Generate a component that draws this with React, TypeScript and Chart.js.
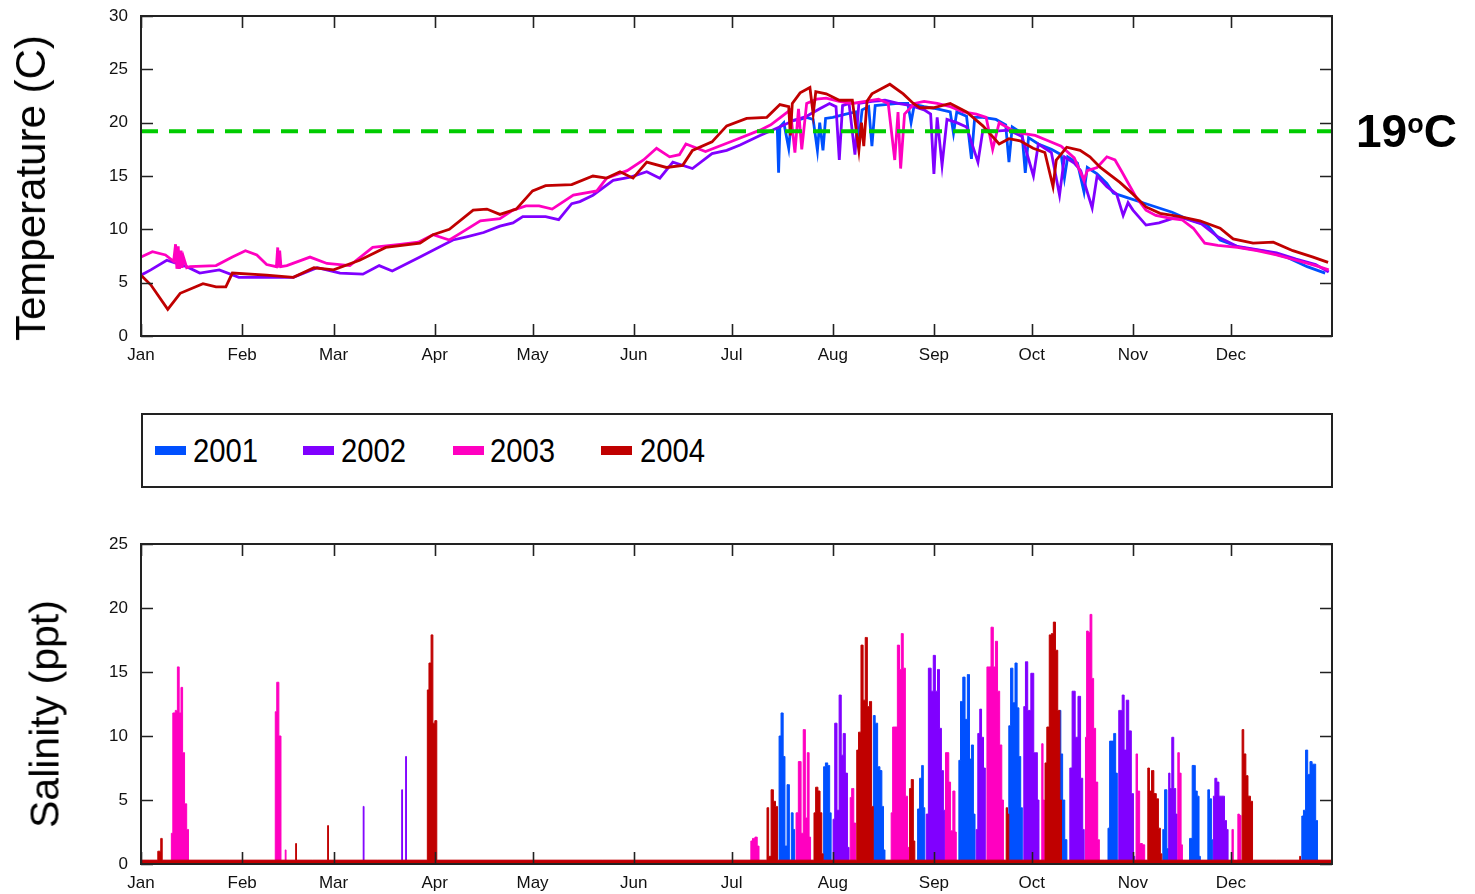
import React, { useEffect, useRef } from 'react';
import { Chart, registerables } from 'chart.js';

Chart.register(...registerables);

// ---------- categories / ticks ----------
const MONTH_DAYS = [0, 31, 59, 90, 120, 151, 181, 212, 243, 273, 304, 334];
const MONTH_LABELS = ['Jan', 'Feb', 'Mar', 'Apr', 'May', 'Jun', 'Jul', 'Aug', 'Sep', 'Oct', 'Nov', 'Dec'];
const YEARS = ['2001', '2002', '2003', '2004'];
const COLORS = ['#0050FF', '#8000FF', '#FF00C0', '#C00000'];
const THRESHOLD_LABEL = '19';
const THRESHOLD = 19.2;
const TEMP_MAX = 30;
const TEMP_STEP = 5;
const SAL_MAX = 25;
const SAL_STEP = 5;

// ---------- temperature (day of year, deg C) ----------
const temp2001: [number, number][] = [
  [195.0, 19.5], [195.4, 15.3], [195.8, 19.6], [197, 20.0], [198.5, 17.6], [199.3, 20.2], [202, 20.3], [204, 20.5],
  [206, 20.3], [207.3, 17.4], [208, 20.0], [209, 17.4], [209.8, 20.4], [212, 20.5], [216, 20.8], [219, 21.0],
  [220, 18.5], [221, 21.2], [223, 21.5], [224, 17.8], [225, 21.6], [228, 21.7], [232, 21.8], [235, 21.8],
  [236, 20.0], [237, 21.7], [240, 21.5], [244, 21.3], [248, 21.0], [249, 19.0], [250, 21.0], [253, 20.6],
  [254.5, 16.6], [255.5, 20.5], [258, 20.5], [262, 20.3], [265, 19.8], [266, 16.3], [267, 19.6], [270, 19.0],
  [271, 15.3], [272, 18.6], [275, 18.0], [279, 17.5], [282, 17.0], [283, 14.8], [284, 16.8], [287, 16.2],
  [289, 13.5], [290, 15.8], [293, 15.2], [296, 14.3], [298, 13.4], [302, 13.0], [308, 12.4], [316, 11.6],
  [320.5, 11.0], [326.7, 10.4], [330.7, 9.0], [336.8, 8.3], [345, 7.9], [351, 7.4], [357.4, 6.5], [362.9, 5.9],
];

const temp2002: [number, number][] = [
  [0, 5.7], [3, 6.2], [7.9, 7.1], [14, 6.5], [18, 5.9], [24, 6.2], [30, 5.5], [38.5, 5.5], [46.7, 5.5],
  [54, 6.4], [61, 5.9], [68, 5.8], [73, 6.6], [77, 6.1], [85.5, 7.4], [95.6, 9.0], [99.8, 9.3], [105, 9.7],
  [110, 10.3], [114, 10.6], [117, 11.2], [124, 11.2], [128, 10.9], [132, 12.4], [134.5, 12.6], [138.5, 13.2],
  [144.7, 14.6], [150, 14.9], [155, 15.4], [159, 14.8], [163, 16.3], [169, 15.7], [175, 17.1], [179.5, 17.4],
  [183.6, 17.9], [189.7, 18.8], [195, 19.5], [200, 20.2], [204, 20.6], [208, 21.3], [211, 21.8], [213, 21.5],
  [214, 16.5], [215, 21.6], [217, 21.8], [218.8, 17.0], [220, 21.8], [224, 22.0], [228, 22.1], [232, 21.8],
  [236, 21.6], [240, 21.2], [242, 20.8], [243, 15.2], [244, 20.5], [245.5, 16.0], [247, 20.3], [250, 20.0],
  [253, 19.6], [256.5, 16.3], [258, 19.3], [262, 19.2], [266, 19.3], [270, 18.7], [273.5, 15.0], [275, 18.0],
  [279, 17.2], [281.5, 13.2], [283, 16.8], [286, 16.2], [288, 15.5], [291.5, 12.0], [293, 15.0], [296, 14.0],
  [299, 13.3], [301, 11.3], [302.5, 12.5], [304, 11.8], [308, 10.4], [312, 10.6], [316, 11.0], [320, 11.0],
  [325, 10.5], [330, 9.3], [336, 8.4], [342, 8.1], [348, 7.8], [354, 7.2], [360, 6.7], [364, 6.0],
];

const temp2003: [number, number][] = [
  [0, 7.4], [3.5, 7.9], [7.5, 7.6], [10, 7.0], [10.6, 8.6], [11.0, 6.3], [11.4, 8.4], [11.8, 6.3], [12.2, 8.0],
  [12.6, 6.4], [13.0, 7.4], [14, 6.4], [15, 6.5], [23, 6.6], [28, 7.4], [32, 8.0], [35.5, 7.6], [38.5, 6.7],
  [41.5, 6.5], [41.9, 8.3], [42.2, 6.4], [42.5, 8.0], [42.9, 6.5], [44.7, 6.6], [51.8, 7.4], [57, 6.8],
  [64, 6.6], [71, 8.3], [79.4, 8.6], [85, 8.8], [89.5, 9.5], [94.5, 9.0], [99.8, 10.0], [104, 10.8],
  [110, 11.0], [114, 11.8], [118, 12.2], [122, 12.2], [126, 11.9], [132.5, 13.2], [139.7, 13.6], [142.7, 14.8],
  [149, 15.5], [154, 16.5], [158, 17.6], [162, 16.8], [165, 17.0], [167, 18.0], [173, 17.3], [181.5, 18.3],
  [189.7, 19.3], [193, 19.8], [196, 20.5], [199, 21.2], [200.4, 17.2], [201.5, 21.3], [202.5, 17.5], [204, 21.8],
  [207, 22.2], [210, 22.3], [214, 22.0], [218, 21.8], [222, 22.0], [226, 22.2], [229, 21.8], [231, 16.5],
  [232, 21.0], [232.8, 15.7], [234, 20.8], [237, 21.8], [240, 22.0], [244, 21.8], [248, 21.5], [252, 21.0],
  [256, 20.8], [259, 20.5], [261, 17.5], [263, 20.0], [267, 19.3], [270, 19.0], [274, 18.8], [278, 18.3],
  [282, 17.8], [286, 16.7], [289, 14.6], [290, 15.5], [293, 15.8], [296, 16.8], [298.5, 16.5], [300.6, 15.4],
  [302.6, 14.3], [305, 13.0], [308, 11.8], [311, 11.3], [316, 11.0], [319, 10.9], [322.5, 10.1], [326, 8.7],
  [330, 8.5], [336, 8.3], [342, 8.0], [348, 7.6], [354, 7.1], [360, 6.6], [364, 6.2],
];

const temp2004: [number, number][] = [
  [0, 5.7], [3, 4.8], [8.2, 2.5], [12, 4.0], [19, 4.9], [23, 4.6], [26, 4.6], [28, 5.9], [38.5, 5.7],
  [46.7, 5.5], [53, 6.4], [59, 6.2], [67, 7.1], [75, 8.3], [85.5, 8.7], [89.5, 9.5], [94.5, 10.0], [101.8, 11.8],
  [106, 11.9], [110, 11.4], [115, 11.9], [120, 13.6], [124, 14.1], [132, 14.2], [138.5, 15.0], [142.7, 14.8],
  [146.8, 15.4], [150.8, 14.8], [155, 16.3], [161, 15.8], [166, 16.0], [169, 17.4], [175, 18.2], [179.5, 19.7],
  [185.6, 20.4], [191.8, 20.5], [195.8, 21.7], [198.5, 21.5], [199, 18.8], [199.6, 21.8], [202, 22.8], [205, 23.3],
  [206, 20.8], [206.8, 22.9], [210, 22.7], [214, 22.1], [218, 22.1], [220, 17.4], [220.8, 20.0], [221.5, 17.8],
  [222.5, 22.0], [224, 22.7], [229.5, 23.6], [233.6, 22.7], [236.7, 21.8], [238.7, 21.4], [242.8, 21.4], [248, 21.8],
  [253, 21.0], [258, 19.7], [263, 18.0], [266, 18.5], [269.4, 18.3], [273.4, 17.6], [277, 17.2], [279.5, 14.0],
  [280.5, 16.5], [283.7, 17.7], [287.8, 17.4], [290.8, 16.8], [294, 15.8], [300, 14.4], [304, 13.3], [308, 12.1],
  [312.3, 11.5], [318.4, 11.2], [324.5, 10.8], [330.7, 10.1], [334.7, 9.1], [340.8, 8.7], [347, 8.8], [353, 8.0],
  [359.2, 7.4], [363.8, 6.9],
];

// ---------- salinity (day of year, ppt) ----------
const sal2001: [number, number][] = [
  [0, 0.2], [195.3, 0.2], [195.8, 10.0], [196.5, 11.8], [197.1, 8.4], [197.6, 1.4], [198.4, 6.2], [199.0, 0.3],
  [199.6, 4.0], [200.1, 2.7], [200.5, 0.2], [209.0, 0.2], [209.4, 7.6], [210.1, 7.9], [210.8, 7.7], [211.3, 4.0],
  [211.7, 0.2], [224.3, 0.2], [224.6, 11.6], [225.4, 11.0], [226.1, 7.6], [226.8, 7.3], [227.3, 4.5], [227.8, 1.1],
  [228.2, 0.2], [237.8, 0.2], [238.2, 4.3], [239.0, 6.7], [239.5, 7.7], [240.0, 4.4], [240.4, 0.2], [250.5, 0.2],
  [250.8, 8.1], [251.5, 12.7], [252.2, 14.6], [252.9, 11.3], [253.6, 14.8], [254.2, 8.2], [254.8, 9.3], [255.4, 3.9],
  [255.8, 0.2], [265.8, 0.2], [266.1, 10.8], [266.9, 15.3], [267.5, 12.6], [268.2, 15.7], [268.8, 12.2], [269.3, 8.4],
  [269.9, 4.4], [270.3, 0.2], [281.3, 0.2], [281.6, 12.0], [282.2, 8.6], [282.7, 5.0], [283.5, 1.9], [284.0, 0.2],
  [296.2, 0.2], [296.5, 2.8], [297.2, 9.6], [297.8, 9.6], [298.4, 10.2], [299.0, 7.1], [299.4, 0.2], [313.0, 0.2],
  [313.3, 2.7], [314.1, 5.8], [314.7, 1.2], [315.0, 0.2], [321.2, 0.2], [321.5, 2.0], [322.8, 7.7], [323.4, 5.7],
  [324.0, 5.3], [324.5, 0.6], [324.8, 0.2], [326.8, 0.2], [327.1, 5.8], [327.8, 5.1], [328.3, 1.9], [328.6, 0.2],
  [355.6, 0.2], [355.9, 3.75], [356.6, 4.2], [357.2, 8.9], [357.9, 7.0], [358.6, 8.0], [359.2, 7.8], [359.7, 7.8],
  [360.3, 3.4], [360.8, 0.2], [365, 0.2],
];

const sal2002: [number, number][] = [
  [0, 0.25], [68.0, 0.25], [68.2, 4.5], [68.5, 0.25], [79.8, 0.25], [80.0, 5.8], [80.3, 0.25], [81.0, 0.25],
  [81.2, 8.4], [81.5, 0.25], [212.0, 0.25], [212.2, 3.5], [213.0, 11.0], [213.6, 4.2], [214.3, 13.2], [214.9, 8.5],
  [215.5, 10.2], [216.2, 7.1], [216.8, 1.3], [217.2, 0.25], [240.5, 0.25], [240.8, 3.9], [241.8, 15.3], [242.5, 13.5],
  [243.1, 16.3], [243.8, 13.5], [244.4, 15.2], [245.0, 10.6], [245.6, 7.3], [246.2, 4.2], [246.5, 0.25], [255.8, 0.25],
  [256.1, 2.7], [256.8, 10.2], [257.3, 12.1], [257.9, 9.9], [258.5, 7.5], [259.0, 0.25], [270.4, 0.25], [270.7, 12.3],
  [271.4, 15.8], [272.1, 12.0], [273.3, 14.9], [273.9, 8.7], [274.4, 8.7], [275.0, 5.0], [275.4, 0.25], [284.5, 0.25],
  [284.8, 7.5], [285.9, 13.5], [286.7, 9.9], [287.6, 13.1], [288.3, 6.7], [288.9, 2.7], [289.2, 0.25], [299.5, 0.25],
  [299.8, 12.0], [300.4, 12.0], [301.0, 13.2], [301.6, 8.9], [302.3, 12.8], [303.1, 10.4], [303.9, 5.5], [304.4, 0.6],
  [304.7, 0.25], [314.8, 0.25], [315.1, 7.1], [315.6, 5.9], [316.2, 9.9], [316.8, 5.9], [317.4, 3.9], [317.7, 0.25],
  [328.5, 0.25], [328.8, 5.3], [329.4, 6.7], [330.0, 6.4], [330.7, 5.3], [331.7, 5.3], [332.4, 3.4], [332.9, 2.7],
  [333.4, 0.25], [365, 0.25],
];

const sal2003: [number, number][] = [
  [0, 0.25], [9.2, 0.25], [9.4, 2.4], [10.1, 11.8], [10.9, 12.0], [11.4, 15.4], [12.0, 11.8], [12.5, 13.8],
  [13.0, 8.7], [13.7, 4.7], [14.3, 2.7], [14.8, 0.25], [41.0, 0.25], [41.3, 11.9], [41.9, 14.2], [42.6, 10.0],
  [43.2, 0.25], [44.1, 0.25], [44.3, 1.1], [44.6, 0.25], [186.8, 0.25], [187.0, 1.8], [187.8, 2.0], [188.5, 2.1],
  [189.2, 1.4], [189.6, 0.25], [200.6, 0.25], [200.9, 4.0], [202.0, 8.0], [202.6, 2.4], [203.3, 10.5], [203.9, 3.6],
  [204.5, 8.7], [205.0, 2.1], [205.4, 0.25], [217.2, 0.25], [217.5, 5.2], [218.1, 5.9], [218.8, 3.2], [219.2, 0.25],
  [229.8, 0.25], [230.0, 4.0], [230.7, 10.7], [231.4, 10.7], [232.2, 17.1], [232.7, 15.2], [233.3, 18.0], [233.9, 15.3],
  [234.6, 5.3], [235.2, 1.3], [235.5, 0.25], [246.4, 0.25], [246.7, 8.7], [247.3, 8.7], [247.8, 6.4], [248.4, 2.6],
  [249.2, 5.7], [249.7, 2.5], [250.0, 0.25], [259.1, 0.25], [259.4, 15.4], [260.1, 15.4], [260.9, 18.5], [261.5, 15.4],
  [262.2, 17.4], [262.8, 13.5], [263.5, 9.3], [264.1, 5.0], [264.5, 0.25], [275.9, 0.25], [276.2, 9.4], [276.7, 5.0],
  [277.0, 0.25], [289.3, 0.25], [289.6, 9.9], [290.0, 18.2], [290.6, 18.1], [291.1, 19.5], [291.7, 14.5], [292.2, 10.6],
  [292.9, 6.4], [293.5, 1.9], [293.9, 0.25], [304.8, 0.25], [305.1, 8.6], [305.7, 5.7], [306.4, 1.6], [307.4, 1.5],
  [307.8, 0.25], [317.6, 0.25], [317.9, 8.7], [318.5, 7.1], [319.0, 1.5], [319.3, 0.25], [334.2, 0.25], [334.5, 2.7],
  [335.0, 0.25], [336.0, 0.25], [336.3, 3.9], [336.9, 3.8], [337.3, 0.25], [365, 0.25],
];

const sal2004: [number, number][] = [
  [0, 0.3], [5.0, 0.3], [5.3, 1.0], [5.8, 1.0], [6.3, 2.0], [6.7, 0.3], [47.3, 0.3], [47.5, 1.6], [47.8, 0.3],
  [57.1, 0.3], [57.3, 3.0], [57.6, 0.3], [87.6, 0.3], [87.9, 13.6], [88.6, 15.7], [89.2, 17.9], [89.7, 11.0],
  [90.4, 11.2], [90.9, 0.3], [191.7, 0.3], [192.0, 4.4], [192.7, 0.6], [193.5, 5.8], [194.1, 4.9], [194.8, 4.5],
  [195.3, 0.3], [206.1, 0.3], [206.4, 4.0], [207.1, 6.0], [207.8, 5.7], [208.4, 4.0], [208.9, 0.8], [209.2, 0.3],
  [219.2, 0.3], [219.5, 8.9], [220.3, 10.3], [221.0, 17.1], [221.6, 12.8], [222.3, 17.7], [222.9, 12.3], [223.6, 12.7],
  [224.2, 4.5], [224.6, 0.3], [235.4, 0.3], [235.7, 5.9], [236.4, 6.6], [237.0, 1.8], [237.3, 0.3], [265.0, 0.3],
  [265.3, 4.4], [265.8, 3.9], [266.1, 0.3], [276.9, 0.3], [277.2, 7.9], [278.0, 10.7], [278.7, 17.9], [279.3, 18.0],
  [279.9, 18.9], [280.6, 16.7], [281.3, 12.0], [281.9, 5.0], [282.3, 0.3], [308.4, 0.3], [308.7, 7.5], [309.4, 5.7],
  [310.0, 7.3], [310.8, 5.5], [311.5, 5.1], [312.1, 2.8], [312.7, 0.8], [313.0, 0.3], [337.3, 0.3], [337.6, 10.5],
  [338.3, 8.6], [338.9, 6.9], [339.6, 5.3], [340.4, 4.9], [340.9, 0.3], [355.0, 0.3], [355.2, 0.6], [355.5, 0.3],
  [365, 0.3],
];

const TEMP_SERIES = [temp2001, temp2002, temp2003, temp2004];
const SAL_SERIES = [sal2001, sal2002, sal2003, sal2004];

const FONT_FAMILY = '"Liberation Sans", Arial, Helvetica, sans-serif';

// Box frame with inward ticks on all four sides (MATLAB style)
const framePlugin = {
  id: 'matlabFrame',
  afterDraw(chart: any) {
    const { ctx, chartArea } = chart;
    const { left, right, top, bottom } = chartArea;
    const xs = chart.scales.x;
    const ys = chart.scales.y;
    const TL = 12;
    ctx.save();
    ctx.strokeStyle = '#222';
    ctx.lineWidth = 1.6;
    ctx.beginPath();
    xs.ticks.forEach((t: any) => {
      const px = Math.round(xs.getPixelForValue(t.value)) + 0.5;
      ctx.moveTo(px, bottom);
      ctx.lineTo(px, bottom - TL);
      ctx.moveTo(px, top);
      ctx.lineTo(px, top + TL);
    });
    ys.ticks.forEach((t: any) => {
      const py = Math.round(ys.getPixelForValue(t.value)) + 0.5;
      ctx.moveTo(left, py);
      ctx.lineTo(left + TL, py);
      ctx.moveTo(right, py);
      ctx.lineTo(right - TL, py);
    });
    ctx.stroke();
    ctx.lineWidth = 2;
    ctx.strokeRect(left, top, right - left, bottom - top);
    ctx.restore();
  },
};

function buildOptions(yMax: number, yStep: number, padding: any, xHeight: number) {
  return {
    responsive: false,
    animation: false as const,
    devicePixelRatio: 1,
    layout: { padding },
    plugins: { legend: { display: false }, tooltip: { enabled: false } },
    elements: { point: { radius: 0 }, line: { tension: 0 } },
    scales: {
      x: {
        type: 'linear' as const,
        min: 0,
        max: 365,
        grid: { display: false },
        border: { display: false },
        afterBuildTicks: (axis: any) => {
          axis.ticks = MONTH_DAYS.map((v) => ({ value: v }));
        },
        afterFit: (axis: any) => {
          axis.height = xHeight;
        },
        ticks: {
          autoSkip: false,
          maxRotation: 0,
          minRotation: 0,
          padding: 1,
          color: '#111',
          font: { family: FONT_FAMILY, size: 17 },
          callback: (v: any) => {
            const i = MONTH_DAYS.indexOf(Number(v));
            return i >= 0 ? MONTH_LABELS[i] : '';
          },
        },
      },
      y: {
        min: 0,
        max: yMax,
        grid: { display: false },
        border: { display: false },
        afterFit: (axis: any) => {
          axis.width = 141;
        },
        ticks: {
          stepSize: yStep,
          padding: 5,
          color: '#111',
          font: { family: FONT_FAMILY, size: 17 },
        },
      },
    },
  };
}

export default function App() {
  const tempRef = useRef<HTMLCanvasElement | null>(null);
  const salRef = useRef<HTMLCanvasElement | null>(null);

  useEffect(() => {
    const charts: Chart[] = [];
    if (tempRef.current) {
      const datasets: any[] = TEMP_SERIES.map((s, i) => ({
        label: YEARS[i],
        data: s.map(([x, y]) => ({ x, y })),
        borderColor: COLORS[i],
        backgroundColor: COLORS[i],
        borderWidth: 2.8,
        pointRadius: 0,
        fill: false,
        order: TEMP_SERIES.length - i,
      }));
      datasets.push({
        label: THRESHOLD_LABEL + '°C',
        data: [
          { x: 0, y: THRESHOLD },
          { x: 365, y: THRESHOLD },
        ],
        borderColor: '#00CC00',
        borderWidth: 4,
        borderDash: [17, 11],
        pointRadius: 0,
        fill: false,
        order: 0,
      });
      charts.push(
        new Chart(tempRef.current, {
          type: 'line',
          data: { datasets },
          options: buildOptions(TEMP_MAX, TEMP_STEP, { top: 16, right: 143, bottom: 10, left: 0 }, 34) as any,
          plugins: [framePlugin],
        })
      );
    }
    if (salRef.current) {
      const datasets: any[] = SAL_SERIES.map((s, i) => ({
        label: YEARS[i],
        data: s.map(([x, y]) => ({ x, y })),
        borderColor: COLORS[i],
        backgroundColor: COLORS[i],
        borderWidth: 1,
        pointRadius: 0,
        stepped: 'middle',
        fill: 'origin',
        order: SAL_SERIES.length - i,
      }));
      charts.push(
        new Chart(salRef.current, {
          type: 'line',
          data: { datasets },
          options: buildOptions(SAL_MAX, SAL_STEP, { top: 44, right: 143, bottom: 0, left: 0 }, 30) as any,
          plugins: [framePlugin],
        })
      );
    }
    return () => {
      charts.forEach((c) => c.destroy());
    };
  }, []);

  const swatchLefts = [155, 303, 453, 601];
  const textLefts = [193, 341, 490, 640];

  return (
    <div
      style={{
        position: 'absolute',
        left: 0,
        top: 0,
        width: 1475,
        height: 894,
        overflow: 'hidden',
        background: '#fff',
        fontFamily: FONT_FAMILY,
        color: '#000',
      }}
    >
      <canvas
        ref={tempRef}
        width={1475}
        height={380}
        style={{ position: 'absolute', left: 0, top: 0, width: 1475, height: 380 }}
      />
      <canvas
        ref={salRef}
        width={1475}
        height={394}
        style={{ position: 'absolute', left: 0, top: 500, width: 1475, height: 394 }}
      />

      {/* y-axis titles */}
      <div
        style={{
          position: 'absolute',
          left: 31,
          top: 188,
          transform: 'translate(-50%, -50%) rotate(-90deg)',
          whiteSpace: 'nowrap',
          fontSize: 42,
          lineHeight: '42px',
        }}
      >
        Temperature (C)
      </div>
      <div
        style={{
          position: 'absolute',
          left: 45,
          top: 714,
          transform: 'translate(-50%, -50%) rotate(-90deg)',
          whiteSpace: 'nowrap',
          fontSize: 41,
          lineHeight: '41px',
        }}
      >
        Salinity (ppt)
      </div>

      {/* threshold label */}
      <div
        style={{
          position: 'absolute',
          left: 1356,
          top: 108,
          fontSize: 46,
          lineHeight: '46px',
          fontWeight: 'bold',
          whiteSpace: 'nowrap',
        }}
      >
        {THRESHOLD_LABEL}
        <span style={{ fontSize: 27, position: 'relative', top: -14 }}>o</span>C
      </div>

      {/* legend box */}
      <div
        style={{
          position: 'absolute',
          left: 141,
          top: 413,
          width: 1192,
          height: 75,
          border: '2px solid #222',
          boxSizing: 'border-box',
        }}
      >
        {YEARS.map((yr, i) => (
          <React.Fragment key={yr}>
            <div
              style={{
                position: 'absolute',
                left: swatchLefts[i] - 143,
                top: 31,
                width: 31,
                height: 9,
                background: COLORS[i],
              }}
            />
            <div
              style={{
                position: 'absolute',
                left: textLefts[i] - 143,
                top: 18,
                fontSize: 34,
                lineHeight: '34px',
                transform: 'scaleX(0.86)',
                transformOrigin: 'left center',
                whiteSpace: 'nowrap',
              }}
            >
              {yr}
            </div>
          </React.Fragment>
        ))}
      </div>
    </div>
  );
}
